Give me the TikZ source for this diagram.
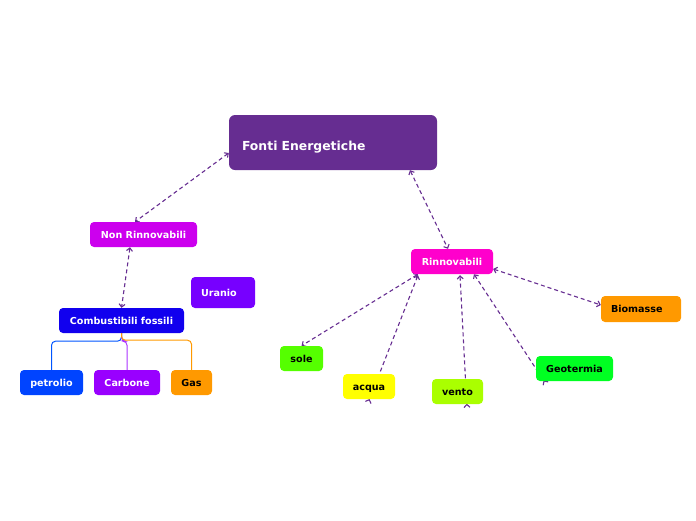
\documentclass[tikz,border=0pt]{standalone}
\usepackage{fontspec}
\setmainfont{DejaVu Sans}
\usetikzlibrary{arrows.meta,backgrounds}
\definecolor{fontipurple}{HTML}{662D91}

\begin{document}
\begin{tikzpicture}[x=1pt,y=-1pt,
    box/.style={rounded corners=4pt,draw=none,font=\fontsize{9.6}{11}\selectfont\bfseries,
      text=white,inner sep=0pt,minimum height=25pt,text height=7.5pt,text depth=0.5pt},
    dark/.style={text=black},
    conn/.style={draw=fontipurple,line width=1.1pt,dash pattern=on 4pt off 3pt,
      {Straight Barb[length=3pt,width=6pt]}-{Straight Barb[length=3pt,width=6pt]}},
    hidden end/.style={{Straight Barb[length=3pt,width=6pt]}-{Straight Barb[length=3pt,width=6pt,reversed]}},
    branch/.style={line width=1pt,rounded corners=4pt}]
  \useasboundingbox (0,0) rectangle (696,520);
  % main topic
  \node [box,fill=fontipurple,rounded corners=6pt,minimum height=55pt,
    font=\fontsize{12.4}{14}\selectfont\bfseries,text width=182pt,inner xsep=13pt,
    text height=15pt,text depth=0pt,align=left] (fonti) at (333,142.5) {Fonti Energetiche};
  % non rinnovabili side
  \node [box,fill={rgb,255:red,204;green,0;blue,238},minimum width=107pt] (nonrinn) at (143.5,234.5) {Non Rinnovabili};
  \node [box,fill={rgb,255:red,119;green,0;blue,255},minimum height=31pt,text width=44pt,
    inner xsep=10pt,align=left] (uranio) at (223,292.5) {Uranio};
  \node [box,fill={rgb,255:red,17;green,0;blue,238},minimum width=125pt] (comb) at (121.5,320.5) {Combustibili fossili};
  \node [box,fill={rgb,255:red,0;green,68;blue,255},minimum width=63pt] (petrolio) at (51.5,382.5) {petrolio};
  \node [box,fill={rgb,255:red,153;green,0;blue,255},minimum width=66pt] (carbone) at (127,382.5) {Carbone};
  \node [box,dark,fill={rgb,255:red,255;green,153;blue,0},minimum width=41pt] (gas) at (191.5,382.5) {Gas};
  % rinnovabili side
  \node [box,fill={rgb,255:red,255;green,0;blue,204},minimum width=82pt] (rinn) at (452,261.5) {Rinnovabili};
  \node [box,dark,fill={rgb,255:red,85;green,255;blue,0},minimum width=43pt] (sole) at (301.5,358.5) {sole};
  \node [box,dark,fill={rgb,255:red,255;green,255;blue,0},minimum width=52pt] (acqua) at (369,386.5) {acqua};
  \node [box,dark,fill={rgb,255:red,170;green,255;blue,0},minimum width=51pt] (vento) at (457.5,391.5) {vento};
  \node [box,dark,fill={rgb,255:red,0;green,255;blue,34},minimum width=77pt] (geo) at (574.5,368.5) {Geotermia};
  \node [box,dark,fill={rgb,255:red,255;green,153;blue,0},minimum height=26pt,text width=60pt,
    inner xsep=10pt,align=left] (bio) at (641,309) {Biomasse};
  % free ends behind the boxes
  \coordinate (acquaend) at (368,403);
  \coordinate (ventoend) at (467,408);
  \coordinate (geoend) at (546,384);

  \begin{scope}[on background layer]
    \draw [conn] ([yshift=-10.5pt]fonti.west) -- ([xshift=-8.5pt]nonrinn.north);
    \draw [conn] ([xshift=77pt]fonti.south) -- ([xshift=-4pt]rinn.north);
    \draw [conn] ([xshift=-13.5pt]nonrinn.south) -- (comb.north);
    \draw [conn] ([xshift=-34pt]rinn.south) -- (sole.north);
    \draw [conn,hidden end] ([xshift=-34pt,yshift=-1pt]rinn.south) -- (acquaend);
    \draw [conn,hidden end] ([xshift=8pt,yshift=-1pt]rinn.south) -- (ventoend);
    \draw [conn,hidden end] ([xshift=22pt]rinn.south) -- (geoend);
    \draw [conn] ([yshift=-7.5pt]rinn.east) -- ([yshift=4pt]bio.west);
    % branches of combustibili fossili
    \draw [branch,draw={rgb,255:red,0;green,85;blue,255}] (comb.south) -- ++(0,8) -| (petrolio.north);
    \draw [branch,draw={rgb,255:red,170;green,51;blue,255}] (comb.south) -- ++(0,8) -| (carbone.north);
    \draw [branch,draw={rgb,255:red,255;green,153;blue,0}] (comb.south) -- ++(0,7) -| (gas.north);
  \end{scope}
\end{tikzpicture}
\end{document}
